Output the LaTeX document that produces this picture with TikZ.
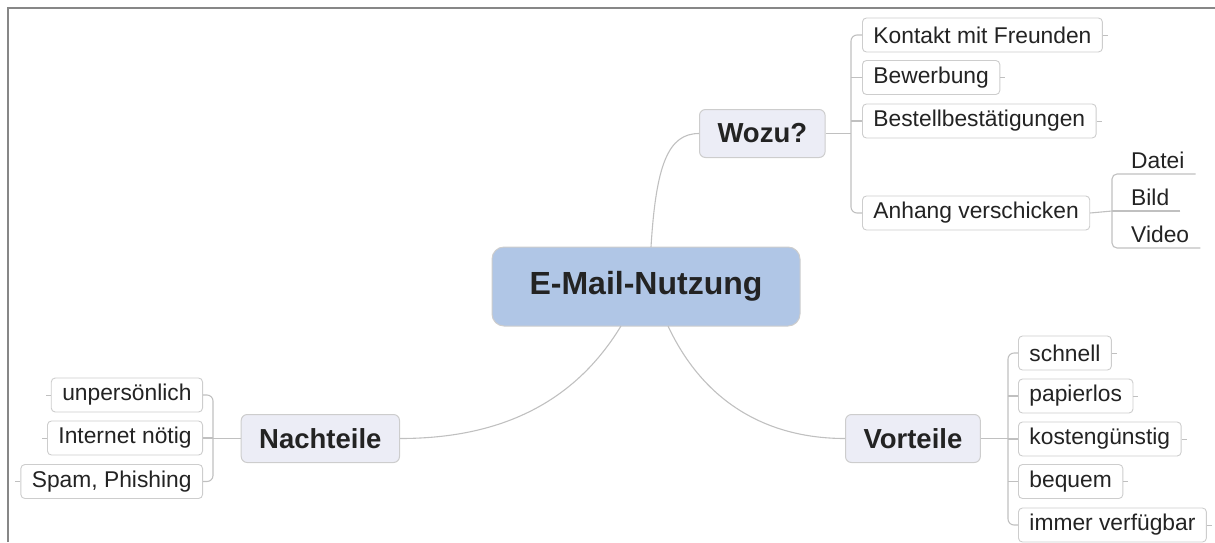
\documentclass[tikz,border=0pt]{standalone}
\usepackage{fontspec}
\setmainfont{Liberation Sans}
\definecolor{framegray}{RGB}{135,135,135}
\definecolor{linegray}{RGB}{192,192,192}
\definecolor{boxgray}{RGB}{205,205,205}
\definecolor{centralblue}{RGB}{176,198,230}
\definecolor{topicfill}{RGB}{236,237,246}
\definecolor{txt}{RGB}{35,35,35}
\tikzset{
  central/.style={draw=boxgray, fill=centralblue, rounded corners=12pt, line width=1pt,
    minimum width=308pt, minimum height=79pt, text=txt,
    font=\fontsize{32}{36}\selectfont\bfseries},
  topic/.style={draw=boxgray, fill=topicfill, rounded corners=6pt, line width=1pt,
    inner xsep=18pt, minimum height=48pt, text=txt,
    font=\fontsize{27.5}{30}\selectfont\bfseries},
  leaf/.style={draw=boxgray, fill=white, rounded corners=4pt, line width=0.9pt,
    inner xsep=11pt, minimum height=34pt, text=txt,
    font=\fontsize{22.8}{26}\selectfont},
  subtext/.style={inner xsep=11pt, inner ysep=5pt, text=txt,
    font=\fontsize{22.8}{26}\selectfont},
  conn/.style={draw=linegray, line width=1.1pt},
  stub/.style={draw=linegray, line width=1pt}
}
\begin{document}
\begin{tikzpicture}[x=1pt,y=-1pt]
\useasboundingbox (0,0) rectangle (1215,542);
% frame
\draw[framegray, line width=2pt] (8,542) -- (8,8) -- (1215,8);

% central
\node[central] (center) at (646,286.5) {E-Mail-Nutzung};

% main topics
\node[topic, anchor=west] (wozu) at (699,133.5) {Wozu?};
\node[topic, anchor=east] (nach) at (400,438.5) {Nachteile};
\node[topic, anchor=west] (vor) at (845,438.5) {Vorteile};

% main connectors
\coordinate (ctop) at (651,247);
\coordinate (cbl) at (621,326);
\coordinate (cbr) at (668,326);
\draw[conn] (ctop) .. controls (656,165) and (668,133.5) .. (wozu.west);
\draw[conn] (cbl) .. controls (570,410) and (490,438.5) .. (nach.east);
\draw[conn] (cbr) .. controls (705,405) and (770,438.5) .. (vor.west);

% Wozu children
\node[leaf, anchor=west] (kontakt) at (862,35) {Kontakt mit Freunden};
\node[leaf, anchor=west] (bewerb) at (862,77.5) {Bewerbung};
\node[leaf, anchor=west] (bestell) at (862,121) {Bestellbestätigungen};
\node[leaf, anchor=west] (anhang) at (862,213) {Anhang verschicken};
\coordinate (wb) at (851,133.5);
\draw[conn] (wozu.east) -- (wb);
\draw[conn, rounded corners=6pt] (kontakt.west) -- (kontakt.west -| wb) -- (anhang.west -| wb) -- (anhang.west);
\draw[conn] (bewerb.west) -- (bewerb.west -| wb);
\draw[conn] (bestell.west) -- (bestell.west -| wb);
\foreach \n in {kontakt,bewerb,bestell} \draw[stub] (\n.east) -- ++(5,0);

% Anhang children
\node[subtext, anchor=south west] (datei) at (1120,174) {Datei};
\node[subtext, anchor=south west] (bild) at (1120,211) {Bild};
\node[subtext, anchor=south west] (video) at (1120,248) {Video};
\coordinate (ab) at (1112,211);
\draw[conn] (anhang.east) -- (ab);
\draw[conn, rounded corners=5pt] (datei.south east) -- (datei.south west -| ab) -- (video.south west -| ab) -- (video.south east);
\draw[conn] (bild.south east) -- (bild.south west -| ab);

% Vorteile children
\node[leaf, anchor=west] (schnell) at (1018,353) {schnell};
\node[leaf, anchor=west] (papier) at (1018,396) {papierlos};
\node[leaf, anchor=west] (kosten) at (1018,439) {kostengünstig};
\node[leaf, anchor=west] (bequem) at (1018,481.5) {bequem};
\node[leaf, anchor=west] (immer) at (1018,525) {immer verfügbar};
\coordinate (vb) at (1008,438.5);
\draw[conn] (vor.east) -- (vb);
\draw[conn, rounded corners=6pt] (schnell.west) -- (schnell.west -| vb) -- (immer.west -| vb) -- (immer.west);
\foreach \n in {papier,kosten,bequem} \draw[conn] (\n.west) -- (\n.west -| vb);
\foreach \n in {schnell,papier,kosten,bequem,immer} \draw[stub] (\n.east) -- ++(5,0);

% Nachteile children
\node[leaf, anchor=east] (unpers) at (203,395) {unpersönlich};
\node[leaf, anchor=east] (internet) at (203,438) {Internet nötig};
\node[leaf, anchor=east] (spam) at (203,481.5) {Spam, Phishing};
\coordinate (nb) at (213,438.5);
\draw[conn] (nach.west) -- (nb);
\draw[conn, rounded corners=6pt] (unpers.east) -- (unpers.east -| nb) -- (spam.east -| nb) -- (spam.east);
\draw[conn] (internet.east) -- (internet.east -| nb);
\foreach \n in {unpers,internet,spam} \draw[stub] (\n.west) -- ++(-5,0);
\end{tikzpicture}
\end{document}
